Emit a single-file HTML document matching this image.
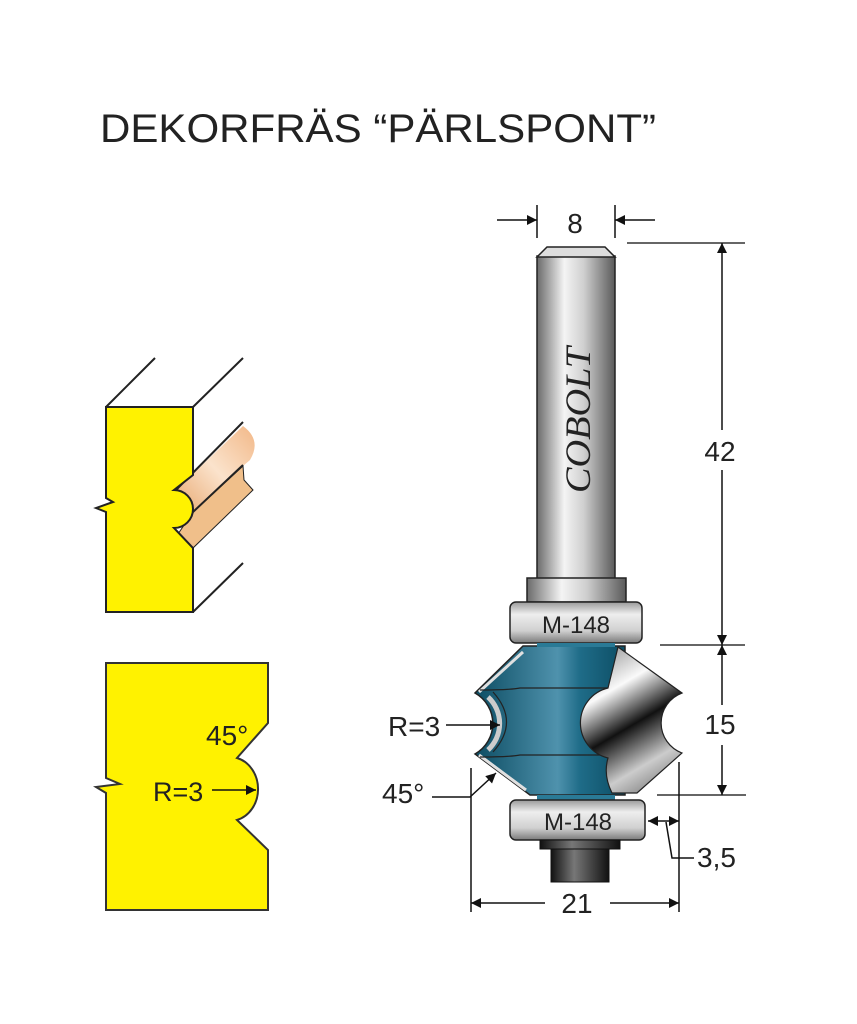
<!DOCTYPE html>
<html><head><meta charset="utf-8"><style>
html,body{margin:0;padding:0;background:#fff}
svg{display:block}
text{font-family:"Liberation Sans",sans-serif;fill:#222}
</style></head><body>
<svg width="857" height="1024" viewBox="0 0 857 1024" xmlns="http://www.w3.org/2000/svg">
<defs>
<linearGradient id="steel" x1="0" x2="1" y1="0" y2="0">
<stop offset="0" stop-color="#6a6a6a"/><stop offset="0.35" stop-color="#f4f4f4"/><stop offset="0.6" stop-color="#cfcfcf"/><stop offset="1" stop-color="#5a5a5a"/></linearGradient>
<linearGradient id="bear" x1="0" x2="0" y1="0" y2="1">
<stop offset="0" stop-color="#9a9a9a"/><stop offset="0.3" stop-color="#eeeeee"/><stop offset="0.7" stop-color="#d0d0d0"/><stop offset="1" stop-color="#7a7a7a"/></linearGradient>
<linearGradient id="blue" x1="0" x2="1" y1="0" y2="0">
<stop offset="0" stop-color="#0d4d63"/><stop offset="0.55" stop-color="#4f92ad"/><stop offset="0.7" stop-color="#1f6c88"/><stop offset="1" stop-color="#0c4d64"/></linearGradient>
<linearGradient id="pol" x1="600" y1="650" x2="682" y2="790" gradientUnits="userSpaceOnUse">
<stop offset="0" stop-color="#9a9a9a"/><stop offset="0.25" stop-color="#fafafa"/><stop offset="0.5" stop-color="#111"/><stop offset="0.75" stop-color="#ccc"/><stop offset="1" stop-color="#666"/></linearGradient>
<linearGradient id="dark" x1="0" x2="1" y1="0" y2="0">
<stop offset="0" stop-color="#111"/><stop offset="0.4" stop-color="#777"/><stop offset="1" stop-color="#111"/></linearGradient>
<linearGradient id="dowel" x1="0" x2="1" y1="1" y2="0">
<stop offset="0" stop-color="#e8a870"/><stop offset="0.5" stop-color="#fbe3cc"/><stop offset="1" stop-color="#f2b888"/></linearGradient>
<marker id="ah" viewBox="0 0 10 10" refX="10" refY="5" markerWidth="14" markerHeight="10" markerUnits="userSpaceOnUse" orient="auto"><path d="M0,0L10,5L0,10z" fill="#111"/></marker>
</defs>

<text x="100" y="142" font-size="40" textLength="556" lengthAdjust="spacingAndGlyphs">DEKORFRÄS “PÄRLSPONT”</text>

<!-- top-left drawing -->
<path d="M176,490 L243,426 Q262,440 250,460 L243,466 L193,512 Z" fill="url(#dowel)"/>
<path d="M193,512 L243,466 L244,480 L253,490 L193,548 L178,534 Z" fill="#f0bf8a" stroke="#222" stroke-width="1"/>
<g stroke="#222" stroke-width="2" fill="none">
<line x1="106" y1="407" x2="155" y2="358"/>
<line x1="193" y1="407" x2="243" y2="358"/>
<line x1="193" y1="612" x2="243" y2="563"/>
<line x1="176" y1="490" x2="243" y2="422"/>
<line x1="193" y1="512" x2="243" y2="465"/>
</g>
<path d="M106,407 H193 V475 L174,490 A19,19 0 0 1 174,528 L193,548 V612 H106 V512 L96,508 L113,502 L106,498 Z" fill="#fff200" stroke="#222" stroke-width="2"/>

<!-- bottom-left drawing -->
<path d="M106,663 H268 V723 L237,758 A28,32 0 0 1 237,820 L268,850 V910 H106 V793 L96,787 L120,784 L106,778 Z" fill="#fff200" stroke="#333" stroke-width="2"/>
<text x="206" y="745" font-size="28">45°</text>
<text x="153" y="801" font-size="27">R=3</text>
<line x1="212" y1="790" x2="256" y2="790" stroke="#111" stroke-width="1.5" marker-end="url(#ah)"/>

<!-- router bit -->
<rect x="537" y="256" width="78" height="326" fill="url(#steel)" stroke="#222" stroke-width="1.5"/>
<path d="M537,257 L547,247 H605 L615,257 Z" fill="#ddd" stroke="#222" stroke-width="1.5"/>
<text transform="translate(590,420) rotate(-90)" text-anchor="middle" font-style="italic" font-size="36" style="font-family:'Liberation Serif',serif" textLength="146" lengthAdjust="spacingAndGlyphs">COBOLT</text>
<rect x="527" y="578" width="99" height="24" fill="url(#steel)" stroke="#222" stroke-width="1.5"/>
<rect x="510" y="602" width="132" height="41" rx="6" fill="url(#bear)" stroke="#222" stroke-width="1.5"/>
<text x="576" y="633" font-size="24" text-anchor="middle">M-148</text>

<!-- cutter -->
<path d="M523,646 H625 V795 H530 L475,754 A35,35 0 0 0 475,693 Z" fill="url(#blue)" stroke="#222" stroke-width="1.5"/>
<path d="M479,692 L523,652 M479,755 L526,790" stroke="#e0e0e0" stroke-width="3" fill="none"/>
<path d="M488,697 A36,36 0 0 1 488,750" stroke="#ccc" stroke-width="5" fill="none"/>
<path d="M480,690 Q510,690 520,688 H610 M480,757 Q510,757 520,755 H610" stroke="#222" stroke-width="1.2" fill="none"/>
<path d="M493,692 Q520,722 493,752" stroke="#222" stroke-width="1.2" fill="none"/>
<path d="M618,647 L682,693 A32,32 0 0 0 682,753 L637,793 L612,793 Q603,775 608,758 A36,36 0 0 1 608,688 Q613,668 618,647 Z" fill="url(#pol)" stroke="#222" stroke-width="1.2"/>
<rect x="537" y="643" width="78" height="4" fill="#2a7a96"/>
<rect x="537" y="795" width="78" height="5" fill="#2a7a96"/>

<rect x="510" y="800" width="135" height="40" rx="6" fill="url(#bear)" stroke="#222" stroke-width="1.5"/>
<text x="578" y="830" font-size="24" text-anchor="middle">M-148</text>
<rect x="540" y="840" width="80" height="9" fill="url(#dark)" stroke="#111"/>
<rect x="551" y="849" width="58" height="33" fill="url(#dark)" stroke="#111"/>

<!-- dimensions -->
<g stroke="#111" stroke-width="1.5" fill="none">
<line x1="537" y1="205" x2="537" y2="238"/>
<line x1="615" y1="205" x2="615" y2="238"/>
<line x1="497" y1="220" x2="537" y2="220" marker-end="url(#ah)"/>
<line x1="655" y1="220" x2="615" y2="220" marker-end="url(#ah)"/>
<line x1="627" y1="243" x2="745" y2="243" stroke="#666" stroke-width="2"/>
<line x1="660" y1="645" x2="745" y2="645" stroke="#666" stroke-width="2"/>
<line x1="657" y1="795" x2="746" y2="795" stroke="#666" stroke-width="2"/>
<line x1="722" y1="430" x2="722" y2="243" marker-end="url(#ah)"/>
<line x1="722" y1="470" x2="722" y2="645" marker-end="url(#ah)"/>
<line x1="722" y1="705" x2="722" y2="645" marker-end="url(#ah)"/>
<line x1="722" y1="745" x2="722" y2="795" marker-end="url(#ah)"/>
<line x1="471" y1="768" x2="471" y2="912"/>
<line x1="679" y1="762" x2="679" y2="912"/>
<line x1="545" y1="903" x2="471" y2="903" marker-end="url(#ah)"/>
<line x1="610" y1="903" x2="679" y2="903" marker-end="url(#ah)"/>
<line x1="664" y1="821" x2="648" y2="821" marker-end="url(#ah)"/>
<line x1="664" y1="821" x2="679" y2="821" marker-end="url(#ah)"/>
<polyline points="666,822 672,858 694,858"/>
<line x1="446" y1="725" x2="500" y2="725" marker-end="url(#ah)"/>
<polyline points="432,797 470,797 496,773" marker-end="url(#ah)"/>
</g>
<text x="575" y="233" font-size="28" text-anchor="middle">8</text>
<text x="720" y="461" font-size="28" text-anchor="middle">42</text>
<text x="720" y="734" font-size="28" text-anchor="middle">15</text>
<text x="577" y="913" font-size="28" text-anchor="middle">21</text>
<text x="697" y="867" font-size="28">3,5</text>
<text x="388" y="736" font-size="28">R=3</text>
<text x="382" y="803" font-size="28">45°</text>
</svg>
</body></html>
